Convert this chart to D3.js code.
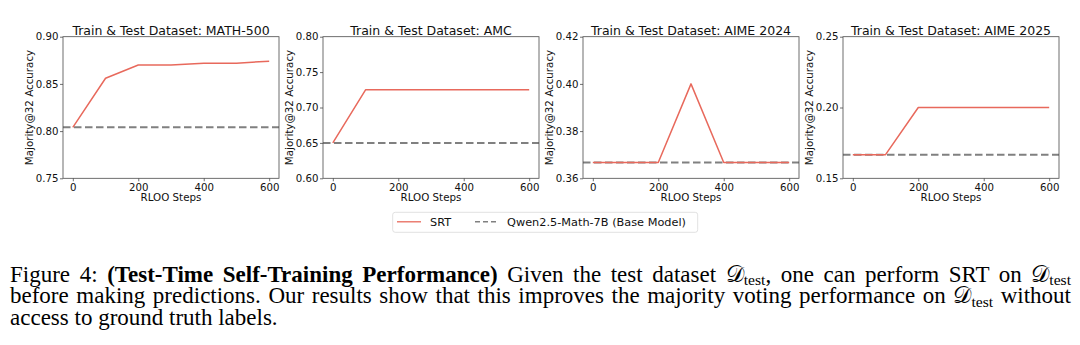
<!DOCTYPE html>
<html>
<head>
<meta charset="utf-8">
<script src="https://cdn.jsdelivr.net/npm/d3@7"></script>
<style>
  html, body { margin: 0; padding: 0; background: #fff; }
  svg { display: block; }
</style>
</head>
<body>
<svg id="chart" width="1080" height="345"></svg>
<script>
// ---------- data ----------
const steps = [0, 100, 200, 300, 400, 500, 600];
const titles = [
  "Train & Test Dataset: MATH-500",
  "Train & Test Dataset: AMC",
  "Train & Test Dataset: AIME 2024",
  "Train & Test Dataset: AIME 2025"
];
const srtMath500 = [0.804, 0.856, 0.870, 0.870, 0.872, 0.872, 0.874];
const srtAMC     = [0.650, 0.725, 0.725, 0.725, 0.725, 0.725, 0.725];
const srtAIME24  = [0.3667, 0.3667, 0.3667, 0.400, 0.3667, 0.3667, 0.3667];
const srtAIME25  = [0.1667, 0.1667, 0.200, 0.200, 0.200, 0.200, 0.200];
const baseValues = [0.804, 0.650, 0.3667, 0.1667];
const yDomains = [[0.75, 0.90], [0.60, 0.80], [0.36, 0.42], [0.15, 0.25]];
const yTicks = [
  [0.75, 0.80, 0.85, 0.90],
  [0.60, 0.65, 0.70, 0.75, 0.80],
  [0.36, 0.38, 0.40, 0.42],
  [0.15, 0.20, 0.25]
];
const xTicks = [0, 200, 400, 600];
const seriesNames = ["SRT", "Qwen2.5-Math-7B (Base Model)"];
const xLabel = "RLOO Steps";
const yLabel = "Majority@32 Accuracy";
const srtSeries = [srtMath500, srtAMC, srtAIME24, srtAIME25];

// ---------- layout ----------
const svg = d3.select("#chart");
const FONT = "DejaVu Sans, sans-serif";
const panelLeft = [63, 323, 583, 843];
const panelW = 216;
const plotTop = 36.7, plotBottom = 178.3;
const red = "#e8695c";
const gray = "#808080";
const spine = "#4a4a4a";

panelLeft.forEach((left, i) => {
  const x = d3.scaleLinear().domain([-30, 630]).range([left, left + panelW]);
  const y = d3.scaleLinear().domain(yDomains[i]).range([plotBottom, plotTop]);
  const g = svg.append("g");

  // base model dashed line (full axes width)
  g.append("line")
    .attr("x1", left).attr("x2", left + panelW)
    .attr("y1", y(baseValues[i])).attr("y2", y(baseValues[i]))
    .attr("stroke", gray).attr("stroke-width", 2)
    .attr("stroke-dasharray", "7.5,3.5");

  // SRT line
  const line = d3.line().x((d, k) => x(steps[k])).y(d => y(d));
  g.append("path").datum(srtSeries[i])
    .attr("d", line).attr("fill", "none")
    .attr("stroke", red).attr("stroke-width", 1.5)
    .attr("stroke-linejoin", "round");

  // axes
  const ax = g.append("g").attr("transform", `translate(0,${plotBottom})`)
    .call(d3.axisBottom(x).tickValues(xTicks).tickSize(3).tickPadding(2.5).tickFormat(d3.format("d")));
  const ay = g.append("g").attr("transform", `translate(${left},0)`)
    .call(d3.axisLeft(y).tickValues(yTicks[i]).tickSize(3).tickPadding(1.5).tickFormat(d3.format(".2f")));
  [ax, ay].forEach(a => {
    a.select(".domain").remove();
    a.selectAll(".tick line").attr("stroke", spine).attr("stroke-width", 0.8);
    a.selectAll(".tick text").attr("font-family", FONT).attr("font-size", 10.2).attr("fill", "#111");
  });

  // frame
  g.append("rect")
    .attr("x", left).attr("y", plotTop).attr("width", panelW).attr("height", plotBottom - plotTop)
    .attr("fill", "none").attr("stroke", spine).attr("stroke-width", 0.8);

  // title
  g.append("text")
    .attr("x", left + panelW / 2).attr("y", 34.5)
    .attr("text-anchor", "middle")
    .attr("font-family", FONT).attr("font-size", 12.5).attr("fill", "#111")
    .text(titles[i]);

  // x label
  g.append("text")
    .attr("x", left + panelW / 2).attr("y", 201)
    .attr("text-anchor", "middle")
    .attr("font-family", FONT).attr("font-size", 10.3).attr("fill", "#111")
    .text(xLabel);

  // y label
  g.append("text")
    .attr("transform", `translate(${left - 30},${(plotTop + plotBottom) / 2}) rotate(-90)`)
    .attr("text-anchor", "middle")
    .attr("font-family", FONT).attr("font-size", 10.3).attr("fill", "#111")
    .text(yLabel);
});

// ---------- legend ----------
const lg = svg.append("g");
lg.append("rect")
  .attr("x", 392.7).attr("y", 212.3).attr("width", 305).attr("height", 20)
  .attr("rx", 2.5).attr("fill", "#fff").attr("stroke", "#d9d9d9").attr("stroke-width", 0.8);
lg.append("line").attr("x1", 397).attr("x2", 421).attr("y1", 221.8).attr("y2", 221.8)
  .attr("stroke", red).attr("stroke-width", 1.3);
lg.append("text").attr("x", 430).attr("y", 226)
  .attr("font-family", FONT).attr("font-size", 11.3).attr("fill", "#111").text(seriesNames[0]);
lg.append("line").attr("x1", 475).attr("x2", 497).attr("y1", 221.8).attr("y2", 221.8)
  .attr("stroke", gray).attr("stroke-width", 1.6).attr("stroke-dasharray", "5,3");
lg.append("text").attr("x", 507).attr("y", 226)
  .attr("font-family", FONT).attr("font-size", 11.3).attr("fill", "#111").text(seriesNames[1]);

// ---------- caption ----------
const SERIF = "Liberation Serif, Times New Roman, serif";
const capSize = 23;
const capLeft = 10, capRight = 1071;
const cap = svg.append("g");

function addLine(yPos, parts, justify) {
  const t = cap.append("text").attr("x", capLeft).attr("y", yPos)
    .attr("font-family", SERIF).attr("font-size", capSize).attr("fill", "#000")
    .attr("xml:space", "preserve");
  parts.forEach(p => {
    const ts = t.append("tspan").text(p.t);
    if (p.b) ts.attr("font-weight", "bold");
    if (p.sub) ts.attr("font-size", capSize * 0.68).attr("dy", 3.5);
    if (p.up) ts.attr("dy", -3.5);
  });
  if (justify) {
    const natural = t.node().getComputedTextLength();
    const text = parts.map(p => p.t).join("");
    const nSpaces = (text.match(/ /g) || []).length;
    const extra = (capRight - capLeft - natural) / nSpaces;
    t.attr("word-spacing", extra);
  }
  return t;
}
const D = "\uD835\uDC9F";
addLine(281.7, [
  {t: "Figure 4: "},
  {t: "(Test-Time Self-Training Performance)", b: true},
  {t: " Given the test dataset "},
  {t: D}, {t: "test", sub: true}, {t: ", one can perform SRT on ", up: true},
  {t: D}, {t: "test", sub: true}
], true);
addLine(303.4, [
  {t: "before making predictions. Our results show that this improves the majority voting performance on "},
  {t: D}, {t: "test", sub: true}, {t: " without", up: true}
], true);
addLine(325, [
  {t: "access to ground truth labels."}
], false);
</script>
</body>
</html>
